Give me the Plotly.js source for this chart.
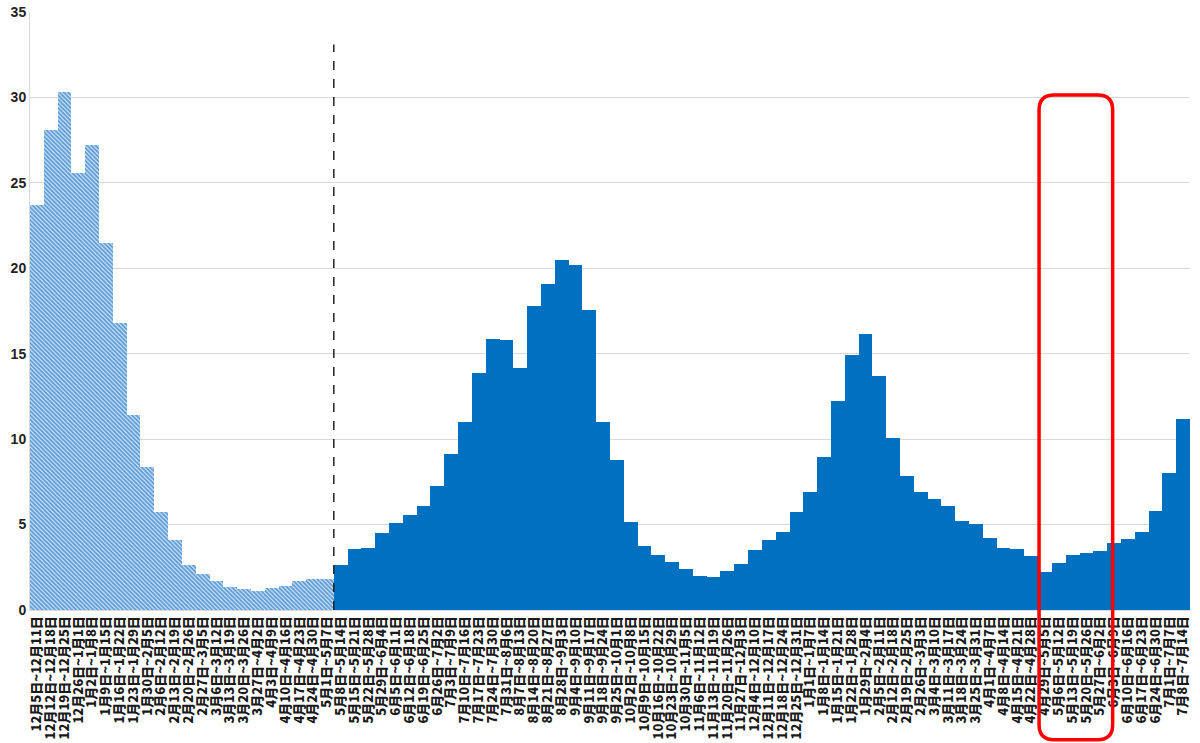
<!DOCTYPE html>
<html>
<head>
<meta charset="utf-8">
<script src="https://cdn.plot.ly/plotly-3.0.1.min.js"></script>
<style>
  html, body { margin: 0; padding: 0; background: #fff; }
  #chart { width: 1200px; height: 743px; }
</style>
</head>
<body>
<div id="chart"></div>
<script>
// weekly periods, before 5/8 (hatched) and after (solid)
var weeksBefore = [
  "12月5日~12月11日", "12月12日~12月18日", "12月19日~12月25日", "12月26日~1月1日",
  "1月2日~1月8日", "1月9日~1月15日", "1月16日~1月22日", "1月23日~1月29日",
  "1月30日~2月5日", "2月6日~2月12日", "2月13日~2月19日", "2月20日~2月26日",
  "2月27日~3月5日", "3月6日~3月12日", "3月13日~3月19日", "3月20日~3月26日",
  "3月27日~4月2日", "4月3日~4月9日", "4月10日~4月16日", "4月17日~4月23日",
  "4月24日~4月30日", "5月1日~5月7日"
];
var weeksAfter = [
  "5月8日~5月14日", "5月15日~5月21日", "5月22日~5月28日", "5月29日~6月4日",
  "6月5日~6月11日", "6月12日~6月18日", "6月19日~6月25日", "6月26日~7月2日",
  "7月3日~7月9日", "7月10日~7月16日", "7月17日~7月23日", "7月24日~7月30日",
  "7月31日~8月6日", "8月7日~8月13日", "8月14日~8月20日", "8月21日~8月27日",
  "8月28日~9月3日", "9月4日~9月10日", "9月11日~9月17日", "9月18日~9月24日",
  "9月25日~10月1日", "10月2日~10月8日", "10月9日~10月15日", "10月16日~10月22日",
  "10月23日~10月29日", "10月30日~11月5日", "11月6日~11月12日", "11月13日~11月19日",
  "11月20日~11月26日", "11月27日~12月3日", "12月4日~12月10日", "12月11日~12月17日",
  "12月18日~12月24日", "12月25日~12月31日", "1月1日~1月7日", "1月8日~1月14日",
  "1月15日~1月21日", "1月22日~1月28日", "1月29日~2月4日", "2月5日~2月11日",
  "2月12日~2月18日", "2月19日~2月25日", "2月26日~3月3日", "3月4日~3月10日",
  "3月11日~3月17日", "3月18日~3月24日", "3月25日~3月31日", "4月1日~4月7日",
  "4月8日~4月14日", "4月15日~4月21日", "4月22日~4月28日", "4月29日~5月5日",
  "5月6日~5月12日", "5月13日~5月19日", "5月20日~5月26日", "5月27日~6月2日",
  "6月3日~6月9日", "6月10日~6月16日", "6月17日~6月23日", "6月24日~6月30日",
  "7月1日~7月7日", "7月8日~7月14日"
];

var valuesBefore = [
  23.7, 28.1, 30.3, 25.6, 27.2, 21.5, 16.8, 11.4, 8.35, 5.72, 4.08,
  2.64, 2.13, 1.68, 1.35, 1.23, 1.11, 1.29, 1.39, 1.68, 1.8, 1.8
];
var valuesAfter = [
  2.64, 3.55, 3.6, 4.49, 5.08, 5.57, 6.09, 7.23, 9.12, 11.0, 13.9, 15.88,
  15.82, 14.16, 17.81, 19.06, 20.47, 20.2, 17.54, 10.98, 8.79, 5.18, 3.73,
  3.23, 2.8, 2.42, 1.97, 1.91, 2.3, 2.71, 3.5, 4.12, 4.57, 5.76, 6.93, 8.96,
  12.23, 14.94, 16.13, 13.72, 10.07, 7.87, 6.93, 6.48, 6.09, 5.2, 5.04, 4.22,
  3.65, 3.59, 3.16, 2.25, 2.73, 3.24, 3.32, 3.48, 3.95, 4.14, 4.59, 5.78,
  8.03, 11.17
];

var yTicks = [0, 5, 10, 15, 20, 25, 30, 35];
var boxFrom = "4月29日~5月5日";
var boxTo = "5月27日~6月2日";

var allWeeks = weeksBefore.concat(weeksAfter);
var n = allWeeks.length;

var data = [
  {
    type: "bar",
    x: weeksBefore,
    y: valuesBefore,
    marker: {
      color: "#5b9bd5",
      line: { width: 0 },
      pattern: { shape: "\\", size: 3, solidity: 0.6, fgcolor: "#5b9bd5", bgcolor: "#d2e4f6" }
    },
    hoverinfo: "x+y"
  },
  {
    type: "bar",
    x: weeksAfter,
    y: valuesAfter,
    marker: { color: "#0070c0", line: { width: 0 } },
    hoverinfo: "x+y"
  }
];

// red rounded box, in paper coords from category positions
var bx0 = (allWeeks.indexOf(boxFrom) + 0.07) / n;
var bx1 = (allWeeks.indexOf(boxTo) + 1.4) / n;
var by0 = -0.217, by1 = 0.861;
var rx = 0.013, ry = 0.025;
var boxPath =
  "M" + (bx0 + rx) + "," + by1 +
  " L" + (bx1 - rx) + "," + by1 +
  " Q" + bx1 + "," + by1 + " " + bx1 + "," + (by1 - ry) +
  " L" + bx1 + "," + (by0 + ry) +
  " Q" + bx1 + "," + by0 + " " + (bx1 - rx) + "," + by0 +
  " L" + (bx0 + rx) + "," + by0 +
  " Q" + bx0 + "," + by0 + " " + bx0 + "," + (by0 + ry) +
  " L" + bx0 + "," + (by1 - ry) +
  " Q" + bx0 + "," + by1 + " " + (bx0 + rx) + "," + by1 + " Z";

var layout = {
  width: 1200,
  height: 743,
  margin: { l: 30, r: 10, t: 12, b: 133 },
  paper_bgcolor: "#ffffff",
  plot_bgcolor: "#ffffff",
  showlegend: false,
  bargap: 0,
  barmode: "overlay",
  xaxis: {
    type: "category",
    categoryorder: "array",
    categoryarray: allWeeks,
    tickmode: "linear",
    tick0: 0,
    dtick: 1,
    tickangle: -90,
    ticks: "",
    showgrid: false,
    showline: true,
    linecolor: "#d9d9d9",
    linewidth: 1,
    tickfont: { family: "Noto Sans CJK JP", size: 13, weight: 800, color: "#1a1a1a" },
    range: [-0.5, n - 0.5],
    fixedrange: true
  },
  yaxis: {
    range: [0, 35],
    tickvals: yTicks,
    ticks: "",
    showgrid: true,
    gridcolor: "#d9d9d9",
    gridwidth: 1,
    zeroline: false,
    showline: true,
    linecolor: "#d9d9d9",
    tickfont: { family: "Liberation Sans", size: 14, weight: "bold", color: "#222" },
    fixedrange: true
  },
  shapes: [
    {
      type: "line",
      xref: "x", yref: "y",
      x0: weeksBefore.length - 0.5, x1: weeksBefore.length - 0.5,
      y0: 0, y1: 33.1,
      line: { color: "#222", width: 1.5, dash: "dash" }
    },
    {
      type: "path",
      xref: "paper", yref: "paper",
      path: boxPath,
      line: { color: "#ff0000", width: 3.5 }
    }
  ]
};

Plotly.newPlot("chart", data, layout, { displayModeBar: false, staticPlot: true });
</script>
</body>
</html>
